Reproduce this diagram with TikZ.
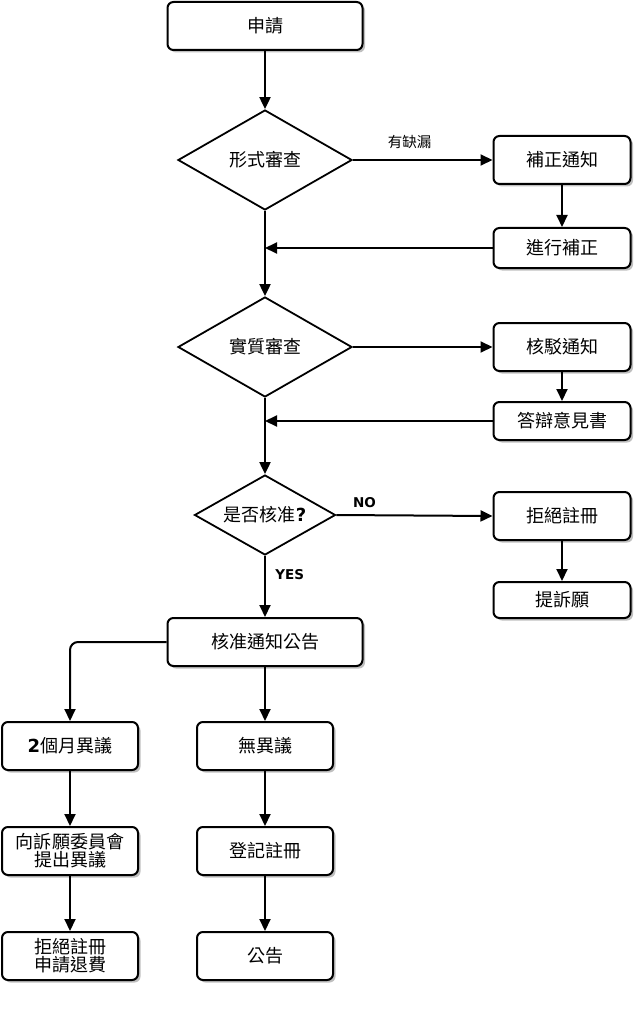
\documentclass[tikz,border=0pt]{standalone}
\usepackage{fontspec}
\setmainfont{Noto Sans CJK TC}
\newfontfamily\latinb{DejaVu Sans}
\usetikzlibrary{shapes.geometric,arrows.meta,shadows}
\begin{document}
\begin{tikzpicture}[x=1pt,y=-1pt,
  box/.style={draw,line width=2pt,rounded corners=6pt,fill=white,
    drop shadow={opacity=0.5,shadow xshift=2.5pt,shadow yshift=-2.5pt},
    inner sep=0pt,align=center,font=\fontsize{18}{21}\selectfont},
  dia/.style={draw,line width=1.8pt,diamond,aspect=1.74,inner sep=0pt,fill=white,
    font=\fontsize{18}{21}\selectfont},
  arr/.style={line width=2pt,-{Triangle[length=12pt,width=11pt]}},
  lab/.style={font=\latinb\bfseries\fontsize{13.5}{16}\selectfont}
]
\useasboundingbox (0,0) rectangle (635,1024);
% main column
\node[box,minimum width=195pt,minimum height=48pt] (apply) at (265,26) {申請};
\node[dia,minimum width=174pt,minimum height=100pt] (form) at (265,160) {形式審查};
\node[box,minimum width=137pt,minimum height=48pt] (fixn) at (562,160) {補正通知};
\node[box,minimum width=137pt,minimum height=40pt] (fix) at (562,248) {進行補正};
\node[dia,minimum width=174pt,minimum height=100pt] (subst) at (265,347) {實質審查};
\node[box,minimum width=137pt,minimum height=48pt] (rejn) at (562,347) {核駁通知};
\node[box,minimum width=137pt,minimum height=38pt] (reply) at (562,421) {答辯意見書};
\node[dia,minimum width=141pt,minimum height=80pt] (ok) at (265,515) {是否核准{\latinb\bfseries ?}};
\node[box,minimum width=137pt,minimum height=48pt] (rej) at (562,516) {拒絕註冊};
\node[box,minimum width=137pt,minimum height=36pt] (appeal) at (562,600) {提訴願};
\node[box,minimum width=195pt,minimum height=48pt] (pub) at (265,642) {核准通知公告};
\node[box,minimum width=136pt,minimum height=48pt] (obj) at (70,746) {{\latinb\bfseries 2}個月異議};
\node[box,minimum width=136pt,minimum height=48pt] (noobj) at (265,746) {無異議};
\node[box,minimum width=136pt,minimum height=48pt] (file) at (70,851) {向訴願委員會\\[-3pt]提出異議};
\node[box,minimum width=136pt,minimum height=48pt] (reg) at (265,851) {登記註冊};
\node[box,minimum width=136pt,minimum height=48pt] (refund) at (70,956) {拒絕註冊\\[-3pt]申請退費};
\node[box,minimum width=136pt,minimum height=48pt] (ann) at (265,956) {公告};
% junction points
\coordinate (j1) at (265,248);
\coordinate (j2) at (265,421);
% connectors
\draw[arr] (apply) -- (form);
\draw[arr] (form) -- node[above=7pt,font=\fontsize{14.5}{16}\selectfont,xshift=-13pt]{有缺漏} (fixn);
\draw[arr] (fixn) -- (fix);
\draw[arr] (fix) -- (j1);
\draw[arr] (form) -- (subst);
\draw[arr] (subst) -- (rejn);
\draw[arr] (rejn) -- (reply);
\draw[arr] (reply) -- (j2);
\draw[arr] (subst) -- (ok);
\draw[arr] (ok.east) -- node[lab,above=3pt,pos=0.18]{NO} (rej.west);
\draw[arr] (rej) -- (appeal);
\draw[arr] (ok) -- node[lab,right=6pt,pos=0.3]{YES} (pub);
\draw[arr,rounded corners=8pt] (pub.west) -| (obj.north);
\draw[arr] (pub) -- (noobj);
\draw[arr] (obj) -- (file);
\draw[arr] (file) -- (refund);
\draw[arr] (noobj) -- (reg);
\draw[arr] (reg) -- (ann);
\end{tikzpicture}
\end{document}
